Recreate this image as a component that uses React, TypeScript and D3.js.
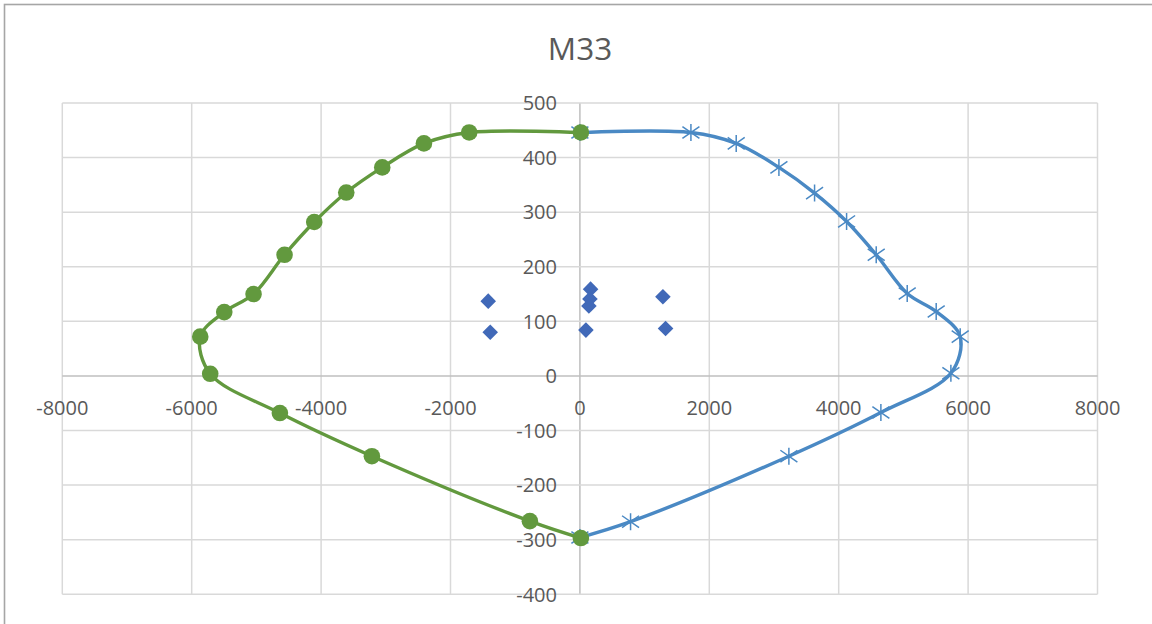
import React from "react";
import * as d3 from "d3";

const W = 1152;
const H = 624;

const title = "M33";
const xTicks = [-8000, -6000, -4000, -2000, 0, 2000, 4000, 6000, 8000];
const yTicks = [-400, -300, -200, -100, 0, 100, 200, 300, 400, 500];

// Positive-side interaction curve (asterisk markers)
const blueX = [0, 1716, 2416, 3076, 3627, 4122, 4580, 5059, 5507, 5878, 5734, 4652, 3230, 783, 0];
const blueY = [446, 446, 426, 382, 335, 283, 222, 151, 118, 72, 5, -67, -147, -267, -296];

// Negative-side interaction curve (circle markers)
const greenX = [15, -1711, -2411, -3055, -3611, -4106, -4565, -5044, -5497, -5868, -5714, -4637, -3215, -773, 15];
const greenY = [446, 446, 426, 382, 336, 282, 222, 150, 117, 72, 4, -68, -147, -266, -297];

// Demand points (diamond markers)
const demandX = [-1417, -1386, 165, 155, 139, 93, 1283, 1324];
const demandY = [137, 80, 159, 141, 128, 84, 145, 87];

const left = 62.3;
const right = 1097.5;
const top = 103;
const bottom = 594.3;

export default function App() {
  const x = d3.scaleLinear().domain([-8000, 8000]).range([left, right]);
  const y = d3.scaleLinear().domain([-400, 500]).range([bottom, top]);

  const line = d3
    .line<[number, number]>()
    .x((d) => x(d[0]))
    .y((d) => y(d[1]))
    .curve(d3.curveCatmullRom.alpha(0.5));

  const blue: [number, number][] = blueX.map((v, i) => [v, blueY[i]]);
  const green: [number, number][] = greenX.map((v, i) => [v, greenY[i]]);
  const demand: [number, number][] = demandX.map((v, i) => [v, demandY[i]]);

  const blueColor = "#4a89c4";
  const greenColor = "#62993e";
  const diamondColor = "#4169b8";
  const textColor = "#595959";
  const font = "'Open Sans', 'Liberation Sans', sans-serif";

  const starPath = (cx: number, cy: number, r: number) => {
    const dx = r;
    const dy = r * 0.7;
    return `M${cx},${cy - r}L${cx},${cy + r}M${cx - dx},${cy - dy}L${cx + dx},${cy + dy}M${cx - dx},${cy + dy}L${cx + dx},${cy - dy}`;
  };
  const diamond = d3.symbol().type(d3.symbolDiamond2).size(155);

  return (
    <svg
      width={W}
      height={H}
      style={{ position: "absolute", left: 0, top: 0, background: "#fff" }}
    >
      <rect x={4.5} y={4.5} width={1200} height={800} fill="#fff" stroke="#a6a6a6" strokeWidth={1.6} />
      <text
        x={580}
        y={60}
        textAnchor="middle"
        fontFamily={font}
        fontSize={31.5}
        fill={textColor}
      >
        {title}
      </text>
      {/* gridlines */}
      {xTicks.map((t) => (
        <line
          key={"gx" + t}
          x1={x(t)}
          x2={x(t)}
          y1={top}
          y2={bottom}
          stroke={t === 0 ? "#bfbfbf" : "#d9d9d9"}
          strokeWidth={1.5}
        />
      ))}
      {yTicks.map((t) => (
        <line
          key={"gy" + t}
          x1={left}
          x2={right}
          y1={y(t)}
          y2={y(t)}
          stroke={t === 0 ? "#bfbfbf" : "#d9d9d9"}
          strokeWidth={1.5}
        />
      ))}
      {/* tick labels */}
      {xTicks.map((t) => (
        <text
          key={"tx" + t}
          x={x(t)}
          y={y(0) + 39.5}
          textAnchor="middle"
          fontFamily={font}
          fontSize={20}
          fill={textColor}
        >
          {t}
        </text>
      ))}
      {yTicks.map((t) => (
        <text
          key={"ty" + t}
          x={557}
          y={y(t) + 7.2}
          textAnchor="end"
          fontFamily={font}
          fontSize={20}
          fill={textColor}
        >
          {t}
        </text>
      ))}
      {/* blue curve */}
      <path d={line(blue) || ""} fill="none" stroke={blueColor} strokeWidth={3.4} />
      {blue.map((p, i) => (
        <path
          key={"bs" + i}
          d={starPath(x(p[0]), y(p[1]), 8.5)}
          stroke={blueColor}
          strokeWidth={1.5}
          fill="none"
        />
      ))}
      {/* green curve */}
      <path d={line(green) || ""} fill="none" stroke={greenColor} strokeWidth={3.4} />
      {green.map((p, i) => (
        <circle key={"gc" + i} cx={x(p[0])} cy={y(p[1])} r={8.3} fill={greenColor} />
      ))}
      {/* demand diamonds */}
      {demand.map((p, i) => (
        <path
          key={"dd" + i}
          d={diamond() || ""}
          transform={`translate(${x(p[0])},${y(p[1])})`}
          fill={diamondColor}
        />
      ))}
    </svg>
  );
}
